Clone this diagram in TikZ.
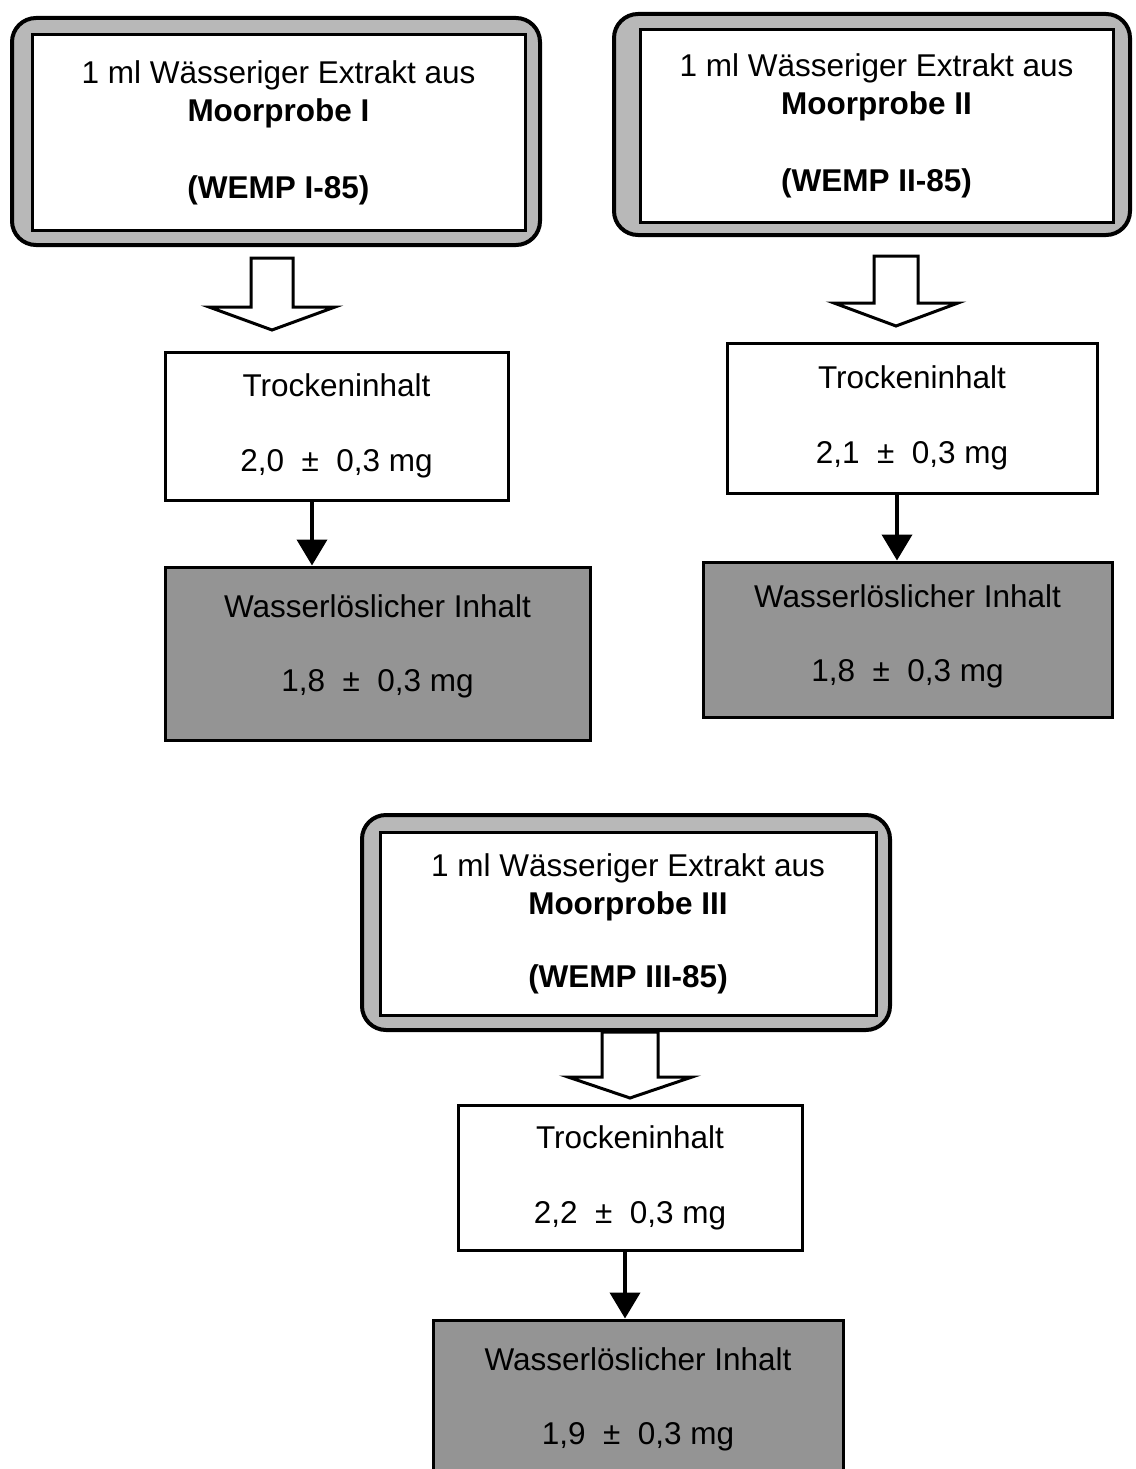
\documentclass[tikz,border=0pt]{standalone}
\usepackage{fontspec}
\setmainfont{Liberation Sans}
\usetikzlibrary{arrows.meta,calc}
\newcommand{\hollowarr}[5]{%
  \coordinate (hatop) at (#1 -| #2);
  \draw[hollowarrow] ($(hatop)+(-#3,0)$) -- ($(hatop)+(#3,0)$) -- ($(#2)+(#3,-#5)$) -- ($(#2)+(#4,-#5)$) -- (#2) -- ($(#2)+(-#4,-#5)$) -- ($(#2)+(-#3,-#5)$) -- cycle;}
\begin{document}
\begin{tikzpicture}[x=1pt,y=-1pt,
  txt/.style={align=center,font=\fontsize{31.5}{38}\selectfont},
  frameouter/.style={draw=black,line width=4pt,rounded corners=24pt,fill=black!28},
  frameinner/.style={txt,draw=black,line width=3pt,fill=white},
  drybox/.style={txt,draw=black,line width=3pt,fill=white},
  greybox/.style={txt,draw=black,line width=3pt,fill=black!42},
  hollowarrow/.style={draw=black,line width=3pt,fill=white,line join=miter},
  solidarr/.style={draw=black,line width=4pt,-{Triangle[width=30pt,length=26pt]}}]
\useasboundingbox (0,0) rectangle (1135,1469);
\fill[white] (0,0) rectangle (1135,1469);

% --- Moorprobe I ---
\node[frameouter,minimum width=528pt,minimum height=227pt] (o1) at (276,131.5) {};
\node[frameinner,minimum width=493pt,minimum height=195pt] (i1) at (278.5,132.5)
  {1 ml Wässeriger Extrakt aus\\\textbf{Moorprobe I}\\[39pt]\textbf{(WEMP I-85)}};
\node[drybox,minimum width=343pt,minimum height=148pt] (d1) at (336.5,426)
  {Trockeninhalt\\[37pt]2,0\ \ ±\ \ 0,3 mg};
\node[greybox,minimum width=425pt,minimum height=173pt] (g1) at (377.5,653.5)
  {Wasserlöslicher Inhalt\\[36pt]1,8\ \ ±\ \ 0,3 mg\rule[-20pt]{0pt}{0pt}};
\coordinate (h1s) at (275,258);
\coordinate (h1e) at (272,330);
\hollowarr{h1s}{h1e}{21}{63}{23}
\coordinate (s1) at (312,0);
\draw[solidarr] (d1.south -| s1) -- (g1.north -| s1);

% --- Moorprobe II ---
\node[frameouter,minimum width=516pt,minimum height=221pt] (o2) at (872,124.5) {};
\node[frameinner,minimum width=473pt,minimum height=192pt] (i2) at (876.5,126)
  {1 ml Wässeriger Extrakt aus\\\textbf{Moorprobe II}\\[39pt]\textbf{(WEMP II-85)}};
\node[drybox,minimum width=370pt,minimum height=150pt] (d2) at (912,418)
  {Trockeninhalt\\[37pt]2,1\ \ ±\ \ 0,3 mg};
\node[greybox,minimum width=409pt,minimum height=155pt] (g2) at (907.5,639.5)
  {Wasserlöslicher Inhalt\\[36pt]1,8\ \ ±\ \ 0,3 mg\rule[-12pt]{0pt}{0pt}};
\coordinate (h2s) at (896,256);
\coordinate (h2e) at (896,326);
\hollowarr{h2s}{h2e}{22}{62}{23}
\coordinate (s2) at (897,0);
\draw[solidarr] (d2.south -| s2) -- (g2.north -| s2);

% --- Moorprobe III ---
\node[frameouter,minimum width=528pt,minimum height=215pt] (o3) at (626,922.5) {};
\node[frameinner,minimum width=496pt,minimum height=183pt] (i3) at (628,923.5)
  {1 ml Wässeriger Extrakt aus\\\textbf{Moorprobe III}\\[35pt]\textbf{(WEMP III-85)}};
\node[drybox,minimum width=344pt,minimum height=145pt] (d3) at (630,1177.5)
  {Trockeninhalt\\[37pt]2,2\ \ ±\ \ 0,3 mg};
\node[greybox,minimum width=410pt,minimum height=172pt] (g3) at (638,1406)
  {Wasserlöslicher Inhalt\\[36pt]1,9\ \ ±\ \ 0,3 mg\rule[-20pt]{0pt}{0pt}};
\coordinate (h3e) at (630,1098);
\hollowarr{o3.south}{h3e}{28}{62}{21}
\coordinate (s3) at (625,0);
\draw[solidarr] (d3.south -| s3) -- (g3.north -| s3);
\end{tikzpicture}
\end{document}
